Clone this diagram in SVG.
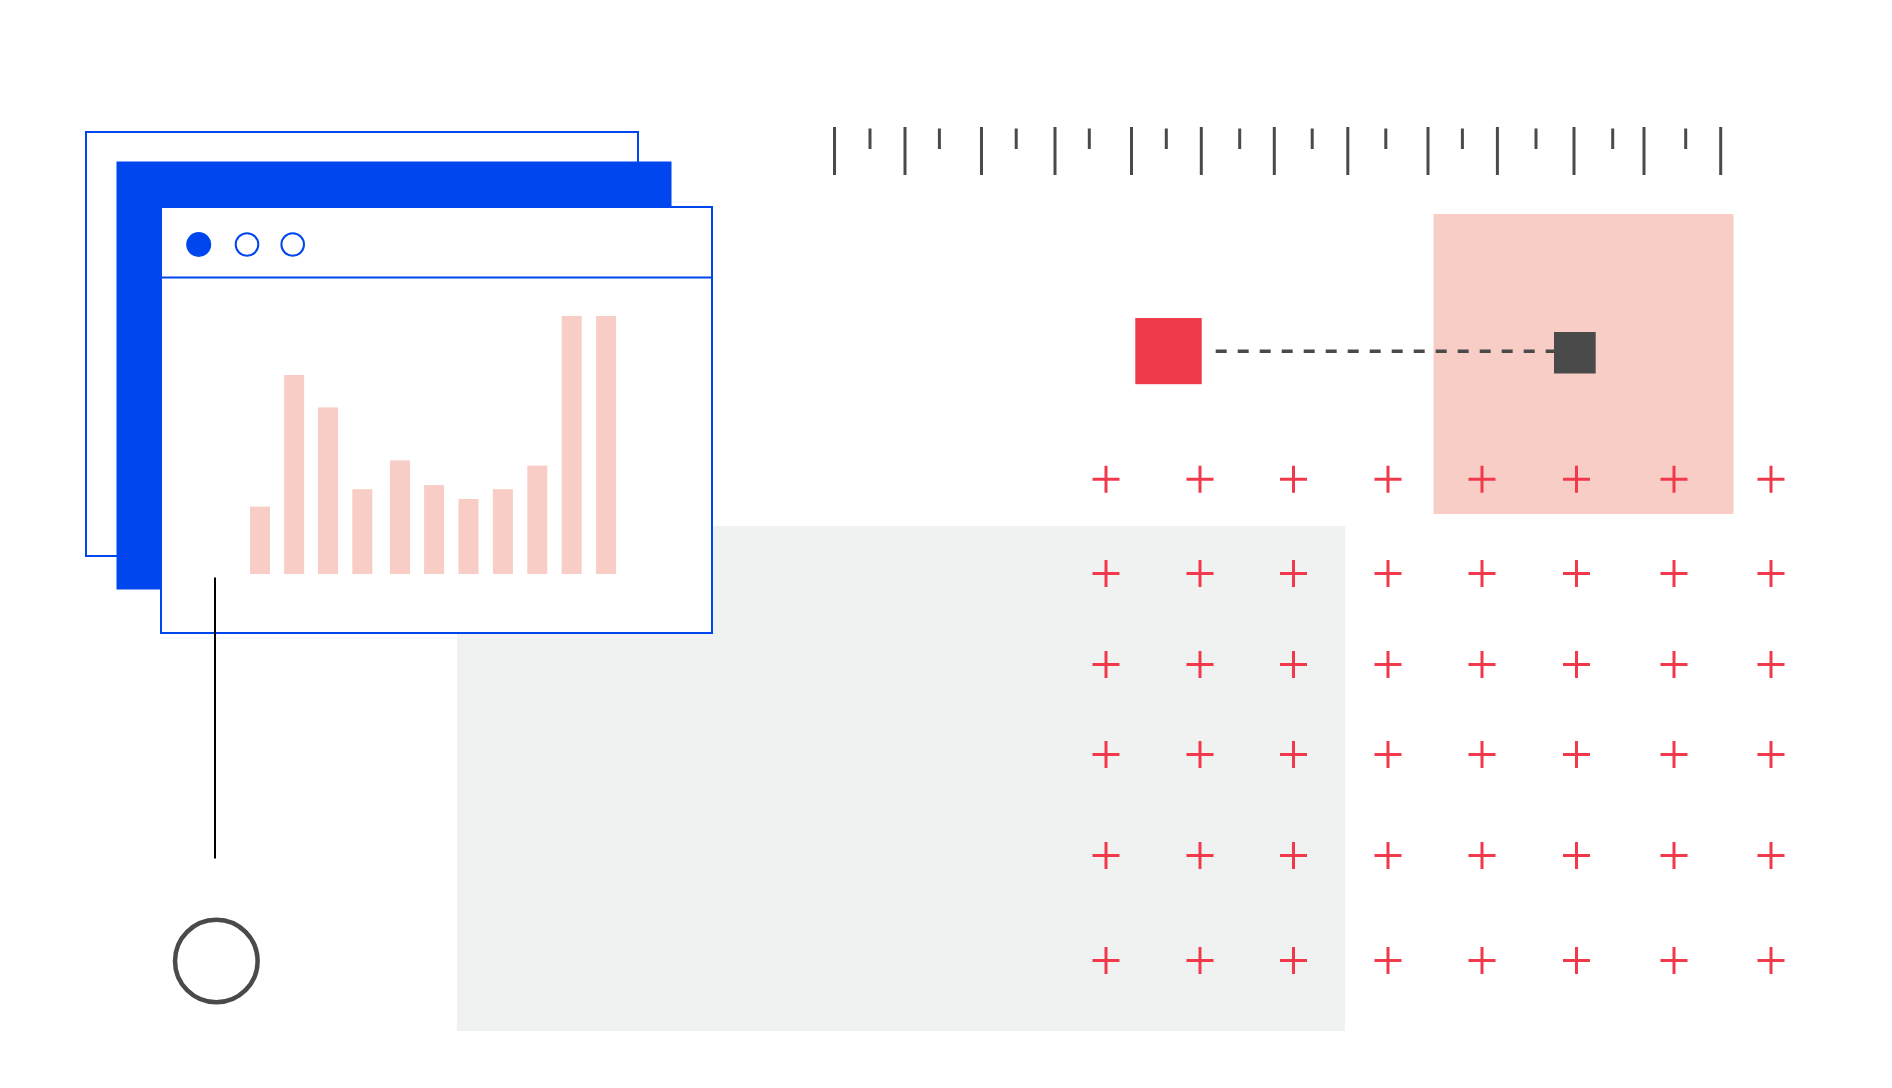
<svg xmlns="http://www.w3.org/2000/svg" xmlns:xlink="http://www.w3.org/1999/xlink" width="1892" height="1088" viewBox="0 0 1892 1088">
  <style>
    .blue-stroke { fill: #ffffff; stroke: #0046ef; stroke-width: 2; }
    .blue-fill { fill: #0046ef; }
    .bar { fill: #f8cdc5; }
    .tick { stroke: #4a4a4a; stroke-width: 3; }
    .plus { stroke: #f03a4c; stroke-width: 3; fill: none; }
    .dark { fill: #4a4a4a; }
  </style>
  <defs>
    <path id="plus" class="plus" d="M-13.5 0H13.5M0 -13.5V13.5"/>
  </defs>
  <rect width="1892" height="1088" fill="#ffffff"/>

  <g id="gray-panel">
    <rect x="457" y="526" width="888" height="505" fill="#f0f2f1"/>
  </g>

  <g id="pink-square">
    <rect x="1433.5" y="214" width="300" height="300" fill="#f8cdc5"/>
  </g>

  <g id="window-back">
    <rect x="86" y="132" width="552" height="424" class="blue-stroke"/>
  </g>
  <g id="window-middle">
    <rect x="116.5" y="161.5" width="555" height="428" class="blue-fill"/>
  </g>
  <g id="window-front">
    <rect x="161" y="207" width="551" height="426" class="blue-stroke"/>
    <line x1="161" y1="277.5" x2="712" y2="277.5" stroke="#0046ef" stroke-width="2"/>
    <circle cx="198.7" cy="244.5" r="12.5" class="blue-fill"/>
    <circle cx="247" cy="244.5" r="11.3" fill="none" stroke="#0046ef" stroke-width="2"/>
    <circle cx="292.7" cy="244.5" r="11.3" fill="none" stroke="#0046ef" stroke-width="2"/>
    <g id="bars">
      <rect class="bar" x="250" y="506.6" width="20" height="67.4"/>
      <rect class="bar" x="284.2" y="375" width="20" height="199"/>
      <rect class="bar" x="318" y="407.4" width="20" height="166.6"/>
      <rect class="bar" x="352.3" y="489.2" width="20" height="84.8"/>
      <rect class="bar" x="390" y="460.4" width="20" height="113.6"/>
      <rect class="bar" x="424.1" y="485.1" width="20" height="88.9"/>
      <rect class="bar" x="458.5" y="499" width="20" height="75"/>
      <rect class="bar" x="492.9" y="489.2" width="20" height="84.8"/>
      <rect class="bar" x="527.3" y="465.6" width="20" height="108.4"/>
      <rect class="bar" x="561.7" y="316" width="20" height="258"/>
      <rect class="bar" x="596.1" y="316" width="20" height="258"/>
    </g>
  </g>

  <g id="ruler">
    <g class="tick">
      <line x1="834.5" y1="127" x2="834.5" y2="175"/>
      <line x1="870" y1="128.5" x2="870" y2="149"/>
      <line x1="905" y1="127" x2="905" y2="175"/>
      <line x1="939.4" y1="128.5" x2="939.4" y2="149"/>
      <line x1="981.5" y1="127" x2="981.5" y2="175"/>
      <line x1="1016.2" y1="128.5" x2="1016.2" y2="149"/>
      <line x1="1055" y1="127" x2="1055" y2="175"/>
      <line x1="1089.3" y1="128.5" x2="1089.3" y2="149"/>
      <line x1="1131.5" y1="127" x2="1131.5" y2="175"/>
      <line x1="1166.3" y1="128.5" x2="1166.3" y2="149"/>
      <line x1="1201.3" y1="127" x2="1201.3" y2="175"/>
      <line x1="1239.7" y1="128.5" x2="1239.7" y2="149"/>
      <line x1="1274.3" y1="127" x2="1274.3" y2="175"/>
      <line x1="1312.2" y1="128.5" x2="1312.2" y2="149"/>
      <line x1="1347.8" y1="127" x2="1347.8" y2="175"/>
      <line x1="1385.8" y1="128.5" x2="1385.8" y2="149"/>
      <line x1="1428" y1="127" x2="1428" y2="175"/>
      <line x1="1462.4" y1="128.5" x2="1462.4" y2="149"/>
      <line x1="1497.4" y1="127" x2="1497.4" y2="175"/>
      <line x1="1536" y1="128.5" x2="1536" y2="149"/>
      <line x1="1574" y1="127" x2="1574" y2="175"/>
      <line x1="1612.7" y1="128.5" x2="1612.7" y2="149"/>
      <line x1="1644" y1="127" x2="1644" y2="175"/>
      <line x1="1685.7" y1="128.5" x2="1685.7" y2="149"/>
      <line x1="1720.7" y1="127" x2="1720.7" y2="175"/>
    </g>
  </g>

  <g id="plus-grid">
    <use href="#plus" x="1106" y="479.2"/><use href="#plus" x="1200" y="479.2"/><use href="#plus" x="1293.5" y="479.2"/><use href="#plus" x="1388" y="479.2"/><use href="#plus" x="1482" y="479.2"/><use href="#plus" x="1576.5" y="479.2"/><use href="#plus" x="1674" y="479.2"/><use href="#plus" x="1771" y="479.2"/>
    <use href="#plus" x="1106" y="573.5"/><use href="#plus" x="1200" y="573.5"/><use href="#plus" x="1293.5" y="573.5"/><use href="#plus" x="1388" y="573.5"/><use href="#plus" x="1482" y="573.5"/><use href="#plus" x="1576.5" y="573.5"/><use href="#plus" x="1674" y="573.5"/><use href="#plus" x="1771" y="573.5"/>
    <use href="#plus" x="1106" y="664.4"/><use href="#plus" x="1200" y="664.4"/><use href="#plus" x="1293.5" y="664.4"/><use href="#plus" x="1388" y="664.4"/><use href="#plus" x="1482" y="664.4"/><use href="#plus" x="1576.5" y="664.4"/><use href="#plus" x="1674" y="664.4"/><use href="#plus" x="1771" y="664.4"/>
    <use href="#plus" x="1106" y="754.6"/><use href="#plus" x="1200" y="754.6"/><use href="#plus" x="1293.5" y="754.6"/><use href="#plus" x="1388" y="754.6"/><use href="#plus" x="1482" y="754.6"/><use href="#plus" x="1576.5" y="754.6"/><use href="#plus" x="1674" y="754.6"/><use href="#plus" x="1771" y="754.6"/>
    <use href="#plus" x="1106" y="855.6"/><use href="#plus" x="1200" y="855.6"/><use href="#plus" x="1293.5" y="855.6"/><use href="#plus" x="1388" y="855.6"/><use href="#plus" x="1482" y="855.6"/><use href="#plus" x="1576.5" y="855.6"/><use href="#plus" x="1674" y="855.6"/><use href="#plus" x="1771" y="855.6"/>
    <use href="#plus" x="1106" y="960.4"/><use href="#plus" x="1200" y="960.4"/><use href="#plus" x="1293.5" y="960.4"/><use href="#plus" x="1388" y="960.4"/><use href="#plus" x="1482" y="960.4"/><use href="#plus" x="1576.5" y="960.4"/><use href="#plus" x="1674" y="960.4"/><use href="#plus" x="1771" y="960.4"/>
  </g>

  <g id="connectors">
    <line x1="1215.7" y1="351.3" x2="1554" y2="351.3" stroke="#4a4a4a" stroke-width="3.5" stroke-dasharray="11 11"/>
    <line x1="215" y1="577.5" x2="215" y2="858.5" stroke="#000000" stroke-width="2"/>
  </g>

  <g id="red-square">
    <rect x="1135.3" y="318" width="66.4" height="66.2" fill="#f03a4c"/>
  </g>
  <g id="dark-square">
    <rect x="1554" y="332" width="41.7" height="41.5" class="dark"/>
  </g>
  <g id="circle-node">
    <circle cx="216.3" cy="961" r="41.3" fill="none" stroke="#4a4a4a" stroke-width="4.5"/>
  </g>
</svg>
